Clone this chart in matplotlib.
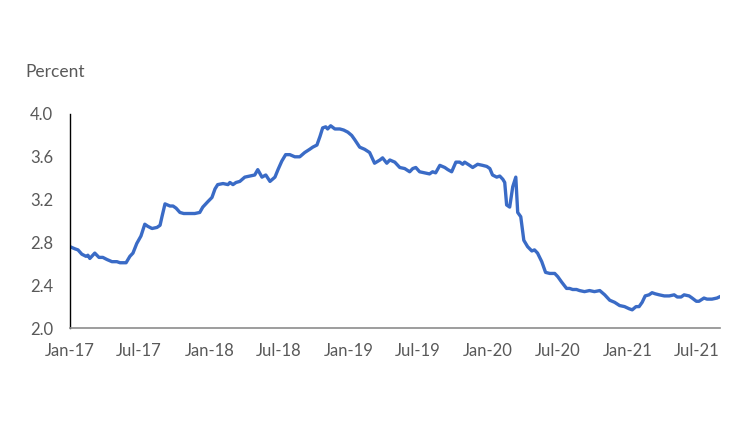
import matplotlib
matplotlib.use("Agg")
import matplotlib.pyplot as plt
import matplotlib.dates as mdates
import pandas as pd

# weekly-ish readings, percent
dates = [
    "2017-01-01", "2017-01-14", "2017-01-22", "2017-02-01", "2017-02-12", "2017-02-17",
    "2017-02-22", "2017-03-07", "2017-03-18", "2017-03-28", "2017-04-08", "2017-04-21",
    "2017-05-04", "2017-05-12", "2017-05-28", "2017-06-07", "2017-06-15", "2017-06-25",
    "2017-07-06", "2017-07-16", "2017-07-24", "2017-08-04", "2017-08-17", "2017-08-25",
    "2017-08-30", "2017-09-07", "2017-09-20", "2017-09-28", "2017-10-06", "2017-10-16",
    "2017-10-26", "2017-11-11", "2017-11-24", "2017-12-07", "2017-12-15", "2017-12-28",
    "2018-01-08", "2018-01-16", "2018-01-23", "2018-02-06", "2018-02-19", "2018-02-24",
    "2018-03-04", "2018-03-12", "2018-03-22", "2018-04-04", "2018-04-17", "2018-04-30",
    "2018-05-08", "2018-05-19", "2018-05-29", "2018-06-09", "2018-06-22", "2018-06-30",
    "2018-07-10", "2018-07-20", "2018-07-31", "2018-08-13", "2018-08-26", "2018-09-08",
    "2018-09-21", "2018-09-29", "2018-10-10", "2018-10-18", "2018-10-25", "2018-11-02",
    "2018-11-07", "2018-11-15", "2018-11-26", "2018-12-09", "2018-12-19", "2018-12-30",
    "2019-01-09", "2019-01-17", "2019-01-30", "2019-02-12", "2019-02-25", "2019-03-10",
    "2019-03-24", "2019-03-31", "2019-04-11", "2019-04-19", "2019-05-02", "2019-05-15",
    "2019-05-28", "2019-06-10", "2019-06-18", "2019-06-26", "2019-07-06", "2019-07-19",
    "2019-08-01", "2019-08-09", "2019-08-17", "2019-08-28", "2019-09-10", "2019-09-18",
    "2019-09-28", "2019-10-09", "2019-10-19", "2019-10-27", "2019-11-01", "2019-11-14",
    "2019-11-22", "2019-12-05", "2019-12-18", "2019-12-29", "2020-01-06", "2020-01-13",
    "2020-01-24", "2020-02-01", "2020-02-09", "2020-02-14", "2020-02-19", "2020-02-27",
    "2020-03-06", "2020-03-14", "2020-03-19", "2020-03-27", "2020-04-04", "2020-04-14",
    "2020-04-25", "2020-05-02", "2020-05-10", "2020-05-21", "2020-05-31", "2020-06-11",
    "2020-06-24", "2020-07-02", "2020-07-12", "2020-07-25", "2020-08-02", "2020-08-10",
    "2020-08-20", "2020-08-28", "2020-09-10", "2020-09-23", "2020-10-06", "2020-10-20",
    "2020-11-02", "2020-11-15", "2020-11-28", "2020-12-11", "2020-12-24", "2021-01-05",
    "2021-01-13", "2021-01-23", "2021-01-31", "2021-02-08", "2021-02-16", "2021-02-26",
    "2021-03-06", "2021-03-14", "2021-03-25", "2021-04-07", "2021-04-20", "2021-05-03",
    "2021-05-11", "2021-05-21", "2021-05-29", "2021-06-11", "2021-06-19", "2021-06-30",
    "2021-07-07", "2021-07-20", "2021-07-28", "2021-08-10", "2021-08-23", "2021-08-29",
]
rate = [
    2.76, 2.74, 2.73, 2.69, 2.67, 2.68,
    2.65, 2.70, 2.66, 2.66, 2.64, 2.62,
    2.62, 2.61, 2.61, 2.67, 2.70, 2.79,
    2.86, 2.97, 2.95, 2.93, 2.94, 2.96,
    3.04, 3.16, 3.14, 3.14, 3.12, 3.08,
    3.07, 3.07, 3.07, 3.08, 3.13, 3.18,
    3.22, 3.30, 3.34, 3.35, 3.34, 3.36,
    3.34, 3.36, 3.37, 3.41, 3.42, 3.43,
    3.48, 3.41, 3.43, 3.37, 3.41, 3.48,
    3.56, 3.62, 3.62, 3.60, 3.60, 3.64,
    3.67, 3.69, 3.71, 3.79, 3.87, 3.88,
    3.86, 3.89, 3.86, 3.86, 3.85, 3.83,
    3.80, 3.76, 3.69, 3.67, 3.64, 3.54,
    3.57, 3.59, 3.54, 3.57, 3.55, 3.50,
    3.49, 3.46, 3.49, 3.50, 3.46, 3.45,
    3.44, 3.46, 3.45, 3.52, 3.50, 3.48,
    3.46, 3.55, 3.55, 3.53, 3.55, 3.52,
    3.50, 3.53, 3.52, 3.51, 3.49, 3.43,
    3.41, 3.42, 3.39, 3.36, 3.15, 3.13,
    3.32, 3.41, 3.08, 3.04, 2.82, 2.76,
    2.72, 2.73, 2.70, 2.62, 2.52, 2.51,
    2.51, 2.48, 2.43, 2.37, 2.37, 2.36,
    2.36, 2.35, 2.34, 2.35, 2.34, 2.35,
    2.31, 2.26, 2.24, 2.21, 2.20, 2.18,
    2.17, 2.20, 2.20, 2.24, 2.30, 2.31,
    2.33, 2.32, 2.31, 2.30, 2.30, 2.31,
    2.29, 2.29, 2.31, 2.30, 2.28, 2.25,
    2.25, 2.28, 2.27, 2.27, 2.28, 2.29,
]
y_ticks = [2.0, 2.4, 2.8, 3.2, 3.6, 4.0]

plt.rcParams["font.family"] = ["Lato", "DejaVu Sans"]

x = pd.to_datetime(dates)

fig = plt.figure(figsize=(7.5, 4.22), dpi=100)
ax = fig.add_axes([0.0933, 0.2227, 0.8667, 0.5072])

ax.plot(x, rate, color="#3A6BC6", linewidth=2.4, solid_joinstyle="round")

ax.set_ylim(2.0, 4.0)
ax.set_yticks(y_ticks)
ax.set_yticklabels([f"{v:.1f}" for v in y_ticks])
ax.set_xlim(pd.Timestamp("2017-01-01"), pd.Timestamp("2021-08-31"))
ax.xaxis.set_major_locator(mdates.MonthLocator(bymonth=[1, 7]))
ax.xaxis.set_major_formatter(mdates.DateFormatter("%b-%y"))

ax.tick_params(axis="both", length=0, labelsize=12, colors="#595959")
ax.tick_params(axis="x", pad=11)
ax.tick_params(axis="y", pad=12)

for s in ["top", "right"]:
    ax.spines[s].set_visible(False)
ax.spines["left"].set_color("#000000")
ax.spines["left"].set_linewidth(1.0)
ax.spines["bottom"].set_color("#8C8C8C")
ax.spines["bottom"].set_linewidth(1.2)

fig.text(25 / 750, 1 - 72 / 422, "Percent", fontsize=12.5, color="#595959",
         ha="left", va="center")

fig.savefig("out.png", dpi=100)
